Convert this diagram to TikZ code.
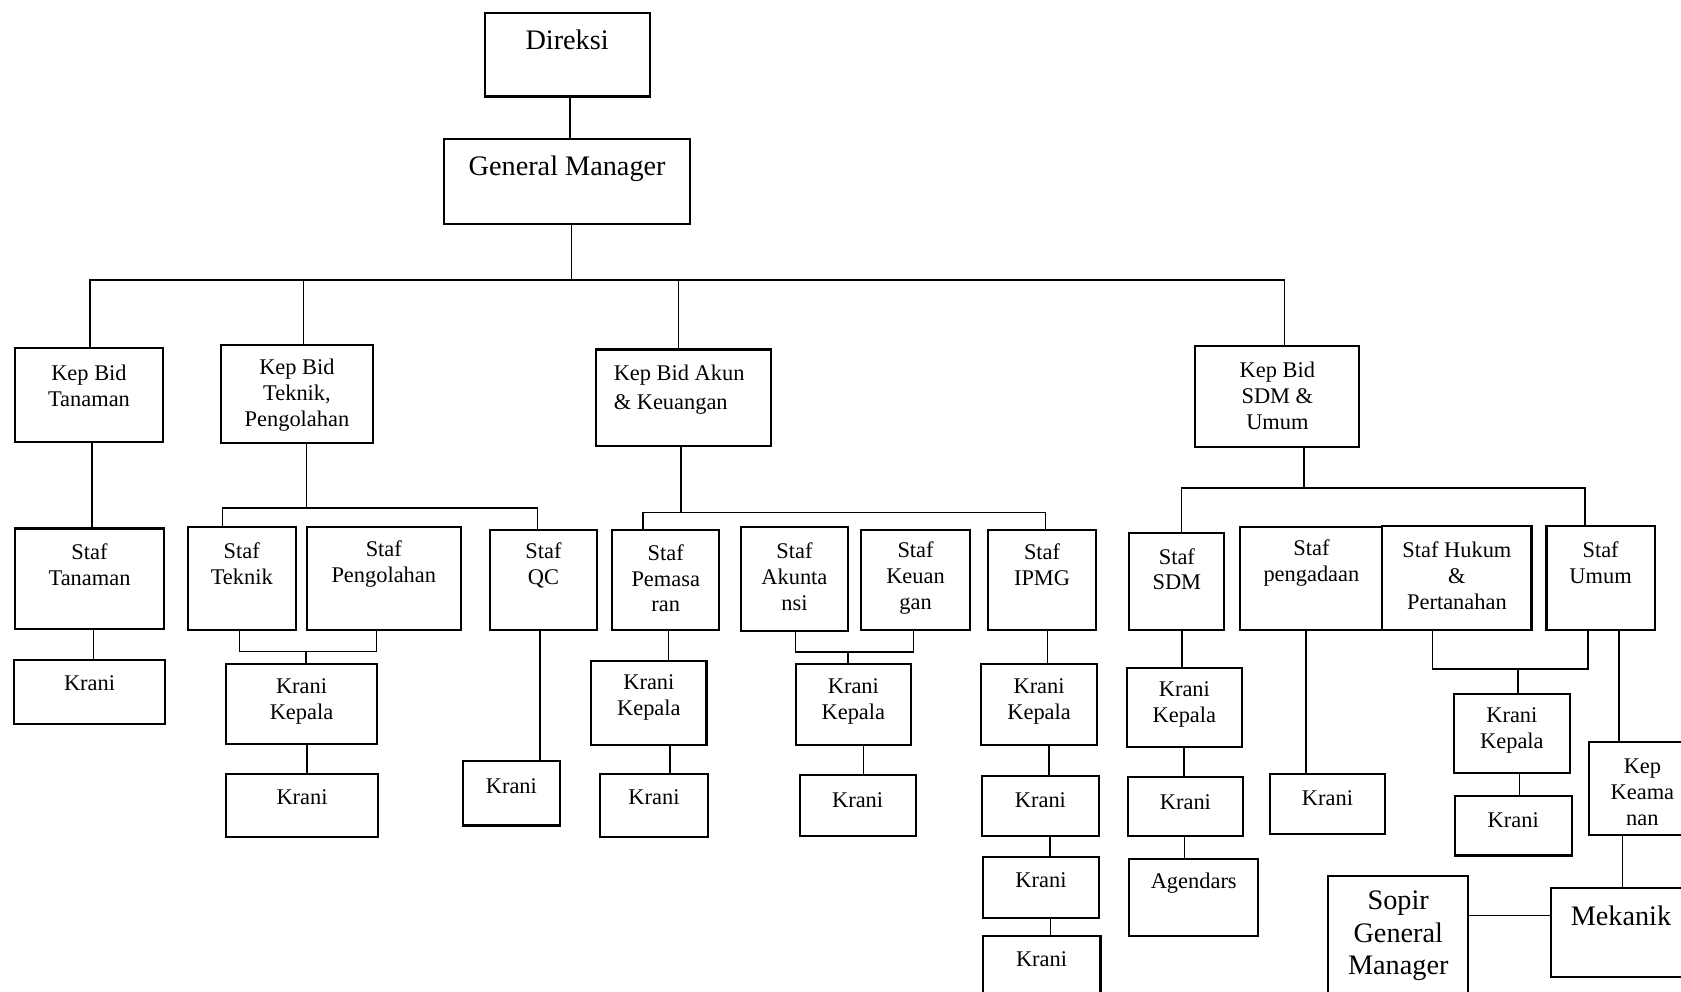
\documentclass[tikz,border=0pt]{standalone}
\usepackage{fontspec}
\setmainfont{Liberation Serif}
\newcommand{\obox}[8][sm]{%
 \pgfmathsetmacro{\obW}{(#5-#3)*0.02}%
 \pgfmathsetmacro{\obH}{(#6-#4)*0.02}%
 \node[orgbox, minimum width=\obW cm, minimum height=\obH cm] (#2) at ({(#3+#5)/2},{(#4+#6)/2}) {};%
 \node[#1] (#2t) at ({(#3+#5)/2},#7) {#8};}
\begin{document}
\begin{tikzpicture}[x=0.02cm,y=-0.02cm,
 orgbox/.style={draw, line width=1.1pt, inner sep=0pt, outer sep=0pt},
 sm/.style={font=\fontsize{11.9}{13.7}\selectfont, align=center, inner sep=0pt},
 lg/.style={font=\fontsize{15}{17.2}\selectfont, align=center, inner sep=0pt},
 link/.style={line width=0.8pt}]
\useasboundingbox (0,0) rectangle (1568,925);
\fill[white] (0,0) rectangle (1568,925);
\clip (0,0) rectangle (1568,925);

% top
\obox[lg]{Dir}{452}{12}{606}{90}{37}{Direksi}
\obox[lg]{GM}{414}{130}{644}{209}{157}{General Manager}
% level 2
\obox{KBT}{14}{325}{152}{412}{360}{Kep Bid\\Tanaman}
\obox{KBP}{206}{322}{348}{413}{368.5}{Kep Bid\\Teknik,\\Pengolahan}
\obox[sm, align=left, xshift=-0.08cm]{KBA}{556}{326}{719}{416}{363}{Kep Bid Akun\\[1.7pt]\& Keuangan}
\obox{KBS}{1115}{323}{1268}{417}{369.5}{Kep Bid\\SDM \&\\Umum}
% tanaman
\obox{StT}{14}{493}{153}{587}{527}{Staf\\Tanaman}
\obox{KrT}{13}{616}{154}{675}{637}{Krani}
% teknik
\obox{StTk}{175}{492}{276}{588}{526}{Staf\\Teknik}
\obox{StPg}{286}{492}{430}{588}{526}{Staf\\Pengolahan}
\obox{StQC}{457}{494}{557}{588}{527.5}{Staf\\QC}
\obox{KKTk}{210.5}{619}{352}{694}{654}{Krani\\Kepala}
\obox{KrTk}{211}{722}{352.5}{781}{744}{Krani}
\obox{KrQC}{431.5}{710}{522.5}{770}{733}{Krani}
% akun
\obox{StPm}{571}{494}{671}{588}{539.5}{Staf\\Pemasa\\ran}
\obox{StAk}{691}{492}{791}{589}{538}{Staf\\Akunta\\nsi}
\obox{StKu}{803.5}{494}{904.5}{588}{539}{Staf\\Keuan\\gan}
\obox{StIP}{921.5}{494}{1022.5}{588}{527}{Staf\\IPMG}
\obox{KKPm}{551.5}{616.5}{659}{695}{650.5}{Krani\\Kepala}
\obox{KrPm}{560}{722}{660}{781}{744}{Krani}
\obox{KKAk}{742.5}{619}{849.5}{695}{654.5}{Krani\\Kepala}
\obox{KrAk}{746}{723}{854}{780}{746}{Krani}
\obox{KKIP}{915}{619}{1023.5}{695}{654.5}{Krani\\Kepala}
\obox{KrIPa}{916}{724}{1025}{780}{746}{Krani}
\obox{KrIPb}{916.5}{799}{1025.5}{856}{821}{Krani}
\obox{KrIPc}{916.5}{873}{1026.5}{960}{895}{Krani}
% sdm
\obox{StSD}{1053.5}{497}{1142}{588}{531}{Staf\\SDM}
\obox{StPd}{1157}{492}{1289.5}{588}{525}{Staf\\pengadaan}
\obox{StHk}{1289.5}{491}{1428.5}{588}{537}{Staf Hukum\\\&\\Pertanahan}
\obox{StUm}{1442.5}{491}{1543.5}{588}{525}{Staf\\Umum}
\obox{KKSD}{1051}{623}{1158.5}{696.5}{657}{Krani\\Kepala}
\obox{KrSD}{1052}{725}{1159.5}{780}{748}{Krani}
\obox{Agd}{1053.5}{801}{1173.5}{873}{824}{Agendars}
\obox{KrPd}{1184.5}{722}{1292}{778}{744.5}{Krani}
\obox{KKHk}{1356}{647}{1464.5}{721}{681}{Krani\\Kepala}
\obox{KrHk}{1357}{742.5}{1466}{798}{765}{Krani}
\obox{KKe}{1482}{692}{1582}{779}{739}{Kep\\Keama\\nan}
\obox[lg]{Mek}{1447}{828}{1577}{911}{854}{Mekanik}
\obox[lg]{Sop}{1239}{817}{1369.5}{960}{873}{Sopir\\General\\Manager}

% connectors: top
\coordinate (d0) at (531.5,0);
\draw[link] (d0 |- Dir.south) -- (d0 |- GM.north);
\coordinate (m0) at (533,261);
\coordinate (m1) at (84,261);
\coordinate (m2) at (283,261);
\coordinate (m3) at (633,261);
\coordinate (m4) at (1198,261);
\draw[link] (m0 |- GM.south) -- (m0);
\draw[link] (m1 |- KBT.north) -- (m1) -- (m4) -- (m4 |- KBS.north);
\draw[link] (m2) -- (m2 |- KBP.north);
\draw[link] (m3) -- (m3 |- KBA.north);
% tanaman
\coordinate (t1) at (86,0);
\coordinate (t2) at (87,0);
\draw[link] (t1 |- KBT.south) -- (t1 |- StT.north);
\draw[link] (t2 |- StT.south) -- (t2 |- KrT.north);
% teknik
\coordinate (p0) at (286,474);
\coordinate (p1) at (207.5,474);
\coordinate (p2) at (501.5,474);
\draw[link] (p0 |- KBP.south) -- (p0);
\draw[link] (p1 |- StTk.north) -- (p1) -- (p2) -- (p2 |- StQC.north);
\coordinate (q0) at (285.5,607.5);
\coordinate (q1) at (223.5,607.5);
\coordinate (q2) at (351,607.5);
\draw[link] (q1 |- StTk.south) -- (q1) -- (q2) -- (q2 |- StPg.south);
\draw[link] (q0) -- (q0 |- KKTk.north);
\coordinate (q3) at (286.5,0);
\draw[link] (q3 |- KKTk.south) -- (q3 |- KrTk.north);
\coordinate (q4) at (503.5,0);
\draw[link] (q4 |- StQC.south) -- (q4 |- KrQC.north);
% akun
\coordinate (a0) at (635,478);
\coordinate (a1) at (600,478);
\coordinate (a2) at (975,478);
\draw[link] (a0 |- KBA.south) -- (a0);
\draw[link] (a1 |- StPm.north) -- (a1) -- (a2) -- (a2 |- StIP.north);
\coordinate (a3) at (623.5,0);
\coordinate (a4) at (625,0);
\draw[link] (a3 |- StPm.south) -- (a3 |- KKPm.north);
\draw[link] (a4 |- KKPm.south) -- (a4 |- KrPm.north);
\coordinate (b0) at (791,608);
\coordinate (b1) at (742,608);
\coordinate (b2) at (852,608);
\draw[link] (b1 |- StAk.south) -- (b1) -- (b2) -- (b2 |- StKu.south);
\draw[link] (b0) -- (b0 |- KKAk.north);
\coordinate (b3) at (805.5,0);
\draw[link] (b3 |- KKAk.south) -- (b3 |- KrAk.north);
\coordinate (c1) at (977,0);
\coordinate (c2) at (978.5,0);
\coordinate (c3) at (979.5,0);
\coordinate (c4) at (980,0);
\draw[link] (c1 |- StIP.south) -- (c1 |- KKIP.north);
\draw[link] (c2 |- KKIP.south) -- (c2 |- KrIPa.north);
\draw[link] (c3 |- KrIPa.south) -- (c3 |- KrIPb.north);
\draw[link] (c4 |- KrIPb.south) -- (c4 |- KrIPc.north);
% sdm
\coordinate (s0) at (1216.5,455);
\coordinate (s1) at (1102,455);
\coordinate (s2) at (1478.5,455);
\draw[link] (s0 |- KBS.south) -- (s0);
\draw[link] (s1 |- StSD.north) -- (s1) -- (s2) -- (s2 |- StUm.north);
\coordinate (s3) at (1102.5,0);
\coordinate (s4) at (1104.5,0);
\coordinate (s5) at (1105,0);
\draw[link] (s3 |- StSD.south) -- (s3 |- KKSD.north);
\draw[link] (s4 |- KKSD.south) -- (s4 |- KrSD.north);
\draw[link] (s5 |- KrSD.south) -- (s5 |- Agd.north);
\coordinate (s6) at (1218,0);
\draw[link] (s6 |- StPd.south) -- (s6 |- KrPd.north);
\coordinate (h0) at (1416,624);
\coordinate (h1) at (1336,624);
\coordinate (h2) at (1481,624);
\draw[link] (h1 |- StHk.south) -- (h1) -- (h2) -- (h2 |- StUm.south);
\draw[link] (h0) -- (h0 |- KKHk.north);
\coordinate (h3) at (1417.5,0);
\draw[link] (h3 |- KKHk.south) -- (h3 |- KrHk.north);
\coordinate (u1) at (1510,0);
\coordinate (u2) at (1513.5,0);
\draw[link] (u1 |- StUm.south) -- (u1 |- KKe.north);
\draw[link] (u2 |- KKe.south) -- (u2 |- Mek.north);
\coordinate (v0) at (0,854);
\draw[link] (Sop.east |- v0) -- (Mek.west |- v0);
\end{tikzpicture}
\end{document}
